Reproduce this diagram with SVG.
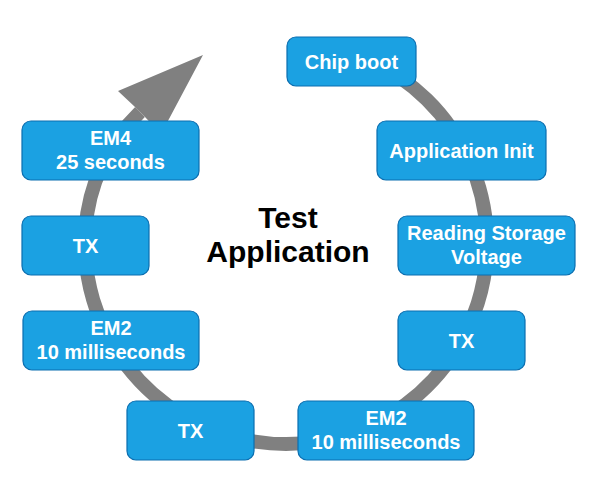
<svg xmlns="http://www.w3.org/2000/svg" width="596" height="504" viewBox="0 0 596 504">
<style>
.box{fill:#1ba1e2;stroke:#0a6eb0;stroke-width:1.2}
.t{font-family:"Liberation Sans",Arial,sans-serif;font-weight:bold;font-size:20px;fill:#ffffff;text-anchor:middle}
.title{font-family:"Liberation Sans",Arial,sans-serif;font-weight:bold;font-size:30px;fill:#000000;text-anchor:middle}
.ring{fill:none;stroke:#808080;stroke-width:14}
</style>
<rect width="596" height="504" fill="#ffffff"/>
<g id="connectors">
<path class="ring" d="M369,60 A201,201 0 1,1 85.4,230 A181,181 0 0,1 140,112"/>
<polygon points="203,55 118,91 135,107 145,117 161,134" fill="#808080"/>
</g>
<g id="chip-boot"><rect class="box" x="287" y="37" width="129" height="49" rx="9"/><text class="t" x="351.5" y="68.5">Chip boot</text></g>
<g id="app-init"><rect class="box" x="377" y="121" width="169" height="59" rx="9"/><text class="t" x="461.5" y="157.5">Application Init</text></g>
<g id="reading-storage"><rect class="box" x="398" y="216" width="177" height="59" rx="9"/><text class="t" x="486.5" y="240">Reading Storage</text><text class="t" x="486.5" y="263.5">Voltage</text></g>
<g id="tx-right"><rect class="box" x="398" y="311" width="127" height="59" rx="9"/><text class="t" x="461.5" y="347.5">TX</text></g>
<g id="em2-right"><rect class="box" x="298" y="401" width="176" height="59" rx="9"/><text class="t" x="386" y="425">EM2</text><text class="t" x="386" y="448.5">10 milliseconds</text></g>
<g id="tx-bottom"><rect class="box" x="127" y="401" width="127" height="59" rx="9"/><text class="t" x="190.5" y="437.5">TX</text></g>
<g id="em2-left"><rect class="box" x="23" y="311" width="176" height="59" rx="9"/><text class="t" x="111" y="335">EM2</text><text class="t" x="111" y="358.5">10 milliseconds</text></g>
<g id="tx-left"><rect class="box" x="22" y="216" width="127" height="59" rx="9"/><text class="t" x="85.5" y="252.5">TX</text></g>
<g id="em4"><rect class="box" x="22" y="121" width="177" height="59" rx="9"/><text class="t" x="110.5" y="145">EM4</text><text class="t" x="110.5" y="168.5">25 seconds</text></g>
<g id="title"><text class="title" x="288" y="228">Test</text><text class="title" x="288" y="262">Application</text></g>
</svg>
